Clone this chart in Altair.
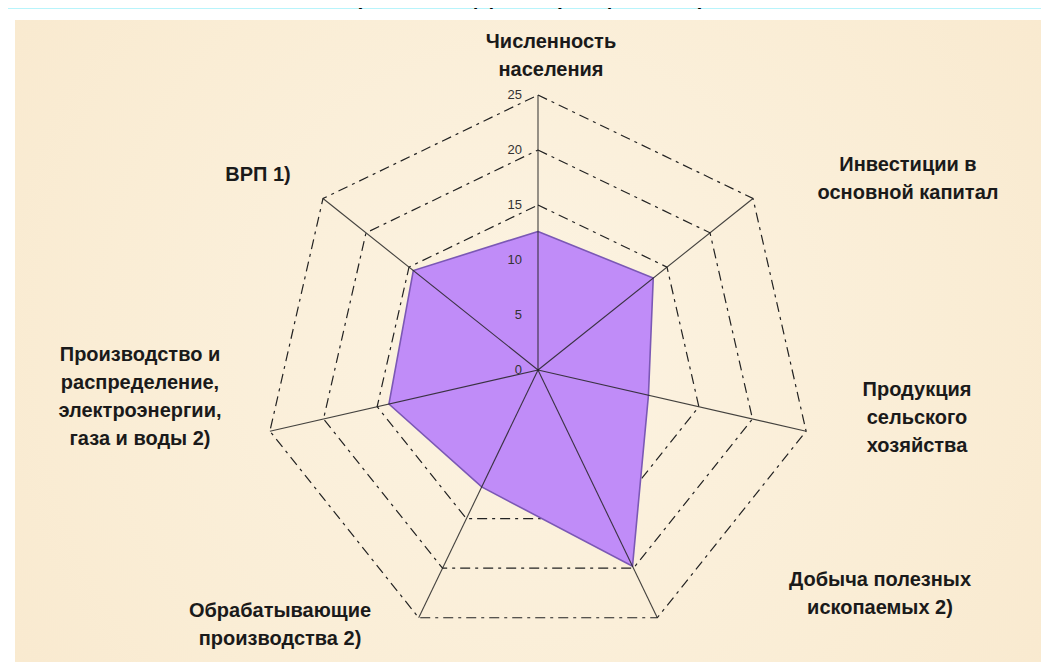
import math
import altair as alt
import pandas as pd

# ---------------- data ----------------
categories = [
    "Численность\nнаселения",
    "Инвестиции в\nосновной капитал",
    "Продукция\nсельского\nхозяйства",
    "Добыча полезных\nископаемых 2)",
    "Обрабатывающие\nпроизводства 2)",
    "Производство и\nраспределение,\nэлектроэнергии,\nгаза и воды 2)",
    "ВРП 1)",
]
values = [12.6, 13.4, 10.3, 19.8, 11.8, 13.9, 14.5]
tick_values = [0, 5, 10, 15, 20, 25]
tick_labels = ["0", "5", "10", "15", "20", "25"]
grid_levels = [15, 20, 25]
r_max = 25
title_text = "(2014 год, в процентах)"

# ---------------- layout / style ----------------
PX = 11.0                 # pixels per data unit
W, H = 1033, 654          # chart size
CX, CY = 530, 362         # centre of the radar in chart pixels
# first-line centres of the category labels, pixel offsets from the radar centre
label_dx = [13, 370, 379, 342, -258, -398, -280]
label_dy = [-328, -205, 20, 210, 241, -15, -195]

CYAN = "#B8F4FB"
FILL = "#C08CF8"
EDGE = "#7B58B5"
INK = "#222222"

n = len(categories)


def ang(i):
    return 2 * math.pi * i / n


xs = alt.Scale(domain=[-CX / PX, (W - CX) / PX], nice=False, zero=False)
ys = alt.Scale(domain=[-(H - CY) / PX, CY / PX], nice=False, zero=False)
X = lambda f="x": alt.X(f"{f}:Q", scale=xs, axis=None)
Y = lambda f="y": alt.Y(f"{f}:Q", scale=ys, axis=None)

# grid polygons
grid_rows = []
for lv in grid_levels:
    for k in range(n + 1):
        a = ang(k % n)
        grid_rows.append({"level": lv, "k": k, "x": lv * math.sin(a), "y": lv * math.cos(a)})
grid_df = pd.DataFrame(grid_rows)

# data polygon
poly_rows = []
for k in range(n + 1):
    a = ang(k % n)
    v = values[k % n]
    poly_rows.append({"k": k, "x": v * math.sin(a), "y": v * math.cos(a)})
poly_df = pd.DataFrame(poly_rows)

# spokes
spoke_df = pd.DataFrame([
    {"x": 0.0, "y": 0.0, "x2": r_max * math.sin(ang(i)), "y2": r_max * math.cos(ang(i))}
    for i in range(n)
])

tick_df = pd.DataFrame({"x": [0.0] * len(tick_values), "y": tick_values, "t": tick_labels})

lab_df = pd.DataFrame({
    "cat": categories,
    "x": [d / PX for d in label_dx],
    "y": [-d / PX for d in label_dy],
})

one = pd.DataFrame({"a": [0]})

beige_grad = alt.Gradient(
    gradient="radial",
    stops=[alt.GradientStop(color="#FCF3E2", offset=0),
           alt.GradientStop(color="#FAEDD5", offset=0.55),
           alt.GradientStop(color="#F8E7CB", offset=1)],
    x1=0.5, y1=0.5, x2=0.5, y2=0.5, r1=0, r2=0.75)

bg_cyan = alt.Chart(one).mark_rect(color=CYAN).encode(
    x=alt.value(0), x2=alt.value(W), y=alt.value(0), y2=alt.value(H))
bg_white = alt.Chart(one).mark_rect(color="white").encode(
    x=alt.value(0), x2=alt.value(W), y=alt.value(1), y2=alt.value(H))
bg_beige = alt.Chart(one).mark_rect(color=beige_grad).encode(
    x=alt.value(7), x2=alt.value(W), y=alt.value(12), y2=alt.value(H))

title = alt.Chart(one).mark_text(
    text=title_text, font="Liberation Sans", fontSize=33, color="black",
    align="center", baseline="alphabetic").encode(
    x=alt.value(522), y=alt.value(-6))

grid = alt.Chart(grid_df).mark_line(
    color=INK, strokeWidth=1.2, strokeDash=[10, 5, 3, 5]).encode(
    x=X(), y=Y(), order="k:Q", detail="level:N")

poly = alt.Chart(poly_df).mark_line(
    fill=FILL, fillOpacity=1, stroke=EDGE, strokeWidth=1.6).encode(
    x=X(), y=Y(), order="k:Q")

spokes = alt.Chart(spoke_df).mark_rule(color=INK, strokeWidth=1.1, opacity=0.85).encode(
    x=X(), y=Y(), x2="x2:Q", y2="y2:Q")

ticks = alt.Chart(tick_df).mark_text(
    font="Liberation Sans", fontSize=13, color="#333333", align="right",
    baseline="middle", dx=-16).encode(x=X(), y=Y(), text="t:N")

labels = alt.Chart(lab_df).mark_text(
    font="Liberation Sans", fontSize=20, fontWeight="bold", color="#1a1a1a",
    align="center", baseline="middle", lineBreak="\n", lineHeight=28).encode(
    x=X(), y=Y(), text="cat:N")

chart = alt.layer(
    bg_cyan, bg_white, bg_beige, title, grid, poly, spokes, ticks, labels
).properties(
    width=W, height=H, padding=0, autosize=alt.AutoSizeParams(type="none"),
    background="white"
).configure_view(stroke=None)

chart.save("out.html", embed_options={"renderer": "svg", "actions": False})
